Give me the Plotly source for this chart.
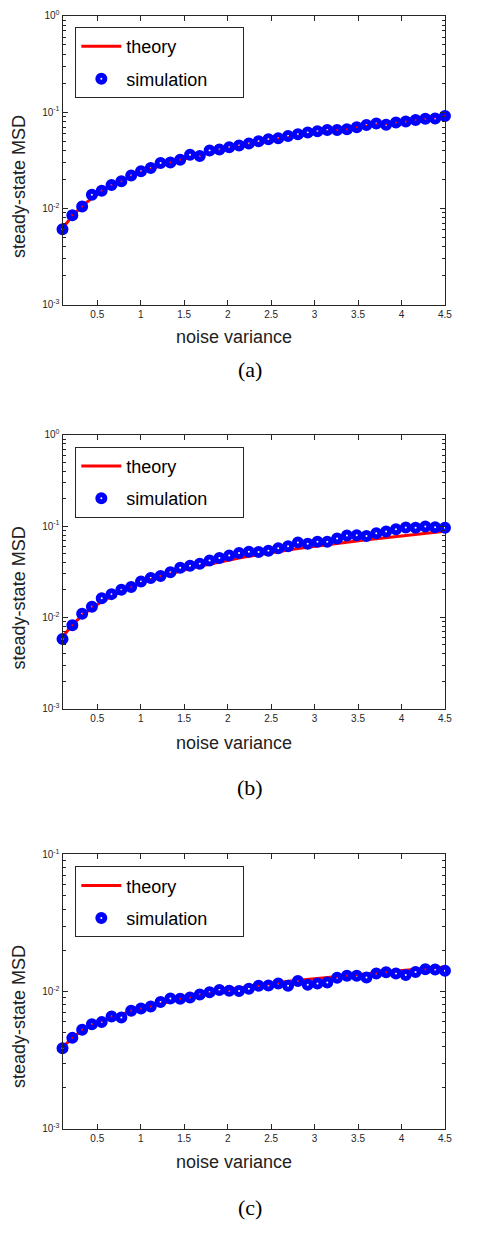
import plotly.graph_objects as go

# noise variance, 40 steps from 0.1 to 4.5
noise_var = [0.100, 0.213, 0.326, 0.438, 0.551, 0.664, 0.777, 0.890, 1.003, 1.115,
             1.228, 1.341, 1.454, 1.567, 1.679, 1.792, 1.905, 2.018, 2.131, 2.244,
             2.356, 2.469, 2.582, 2.695, 2.808, 2.921, 3.033, 3.146, 3.259, 3.372,
             3.485, 3.597, 3.710, 3.823, 3.936, 4.049, 4.162, 4.274, 4.387, 4.500]

# (a)
theory_a = [0.0062, 0.0084, 0.0106, 0.0128, 0.0150, 0.0172, 0.0193, 0.0214, 0.0236, 0.0257,
            0.0278, 0.0298, 0.0318, 0.0338, 0.0358, 0.0378, 0.0398, 0.0418, 0.0438, 0.0458,
            0.0478, 0.0500, 0.0522, 0.0544, 0.0566, 0.0587, 0.0608, 0.0628, 0.0646, 0.0665,
            0.0690, 0.0715, 0.0740, 0.0765, 0.0790, 0.0815, 0.0840, 0.0865, 0.0890, 0.0915]
sim_a = [0.0061, 0.0085, 0.0105, 0.0139, 0.0153, 0.0175, 0.0192, 0.0220, 0.0243, 0.0263,
         0.0296, 0.0301, 0.0321, 0.0362, 0.0350, 0.0400, 0.0410, 0.0433, 0.0451, 0.0472,
         0.0499, 0.0523, 0.0536, 0.0566, 0.0589, 0.0613, 0.0632, 0.0653, 0.0653, 0.0663,
         0.0695, 0.0735, 0.0764, 0.0740, 0.0782, 0.0801, 0.0826, 0.0853, 0.0859, 0.0910]

# (b)
theory_b = [0.0061, 0.0083, 0.0105, 0.0127, 0.0149, 0.0171, 0.0193, 0.0215, 0.0237, 0.0259,
            0.0280, 0.0301, 0.0322, 0.0343, 0.0364, 0.0385, 0.0406, 0.0427, 0.0448, 0.0468,
            0.0488, 0.0508, 0.0528, 0.0548, 0.0568, 0.0588, 0.0608, 0.0628, 0.0648, 0.0668,
            0.0688, 0.0708, 0.0728, 0.0750, 0.0772, 0.0794, 0.0816, 0.0838, 0.0860, 0.0882]
sim_b = [0.0058, 0.0082, 0.0110, 0.0131, 0.0162, 0.0180, 0.0201, 0.0216, 0.0247, 0.0271,
         0.0284, 0.0312, 0.0350, 0.0368, 0.0387, 0.0421, 0.0449, 0.0476, 0.0509, 0.0524,
         0.0521, 0.0539, 0.0572, 0.0601, 0.0664, 0.0643, 0.0676, 0.0676, 0.0734, 0.0791,
         0.0797, 0.0778, 0.0838, 0.0874, 0.0925, 0.0966, 0.0958, 0.0990, 0.0973, 0.0958]

# (c)
theory_c = [0.0039, 0.0046, 0.0052, 0.0057, 0.0061, 0.0065, 0.0068, 0.0072, 0.0075, 0.0078,
            0.0082, 0.0085, 0.0088, 0.0091, 0.0094, 0.0097, 0.0100, 0.0103, 0.0106, 0.0109,
            0.0111, 0.0114, 0.0116, 0.0119, 0.0121, 0.0123, 0.0125, 0.0127, 0.0129, 0.0131,
            0.0133, 0.0135, 0.0137, 0.0139, 0.0141, 0.0143, 0.0145, 0.0147, 0.0149, 0.0151]
sim_c = [0.00385, 0.00459, 0.00527, 0.00578, 0.00598, 0.00658, 0.00647, 0.00723, 0.00751, 0.00776,
         0.00839, 0.00891, 0.00887, 0.00906, 0.00953, 0.00986, 0.01026, 0.01015, 0.01010, 0.01048,
         0.01101, 0.01107, 0.01145, 0.01101, 0.01191, 0.01119, 0.01145, 0.01164, 0.01259, 0.01301,
         0.01301, 0.01264, 0.01352, 0.01384, 0.01352, 0.01321, 0.01390, 0.01453, 0.01445, 0.01419]

x_tickvals = [0.5, 1, 1.5, 2, 2.5, 3, 3.5, 4, 4.5]
x_ticktext = ["0.5", "1", "1.5", "2", "2.5", "3", "3.5", "4", "4.5"]
y_tickvals = [0.001, 0.01, 0.1, 1]
y_ticktext = ["10<sup>-3</sup>", "10<sup>-2</sup>", "10<sup>-1</sup>", "10<sup>0</sup>"]
panel_labels = ["(a)", "(b)", "(c)"]

W, H = 490, 1248
OFF = 8  # page body margin of the html file
SANS = "Liberation Sans, Arial, sans-serif"
AX = "#262626"
PAD = "\u00a0" * 6  # widen the legend box a bit


def px(v):
    return (v - OFF) / W


def py_(v):
    return 1 - (v - OFF) / H


panels = [
    (theory_a, sim_a, [-3, 0], (301.0, 8.7), 20.3, 181, 333, 366.7),
    (theory_b, sim_b, [-3, 0], (709.0, 432.3), 444.3, 596.7, 743.3, 788.3),
    (theory_c, sim_c, [-3, -1], (1133.3, 856.3), 868.3, 1019.7, 1167.3, 1213.3),
]

minor_vals = [m * 10.0 ** e for e in (-3, -2, -1) for m in range(2, 10)]

fig = go.Figure()
layout = dict(width=W, height=H, margin=dict(l=0, r=0, t=0, b=0),
              paper_bgcolor="white", plot_bgcolor="white", autosize=False,
              font=dict(family=SANS, color="black"))
annotations = []

for i, (th, sm, yr, (ybot, ytop), leg_top, ytitle_y, xtitle_y, lab_y) in enumerate(panels):
    n = "" if i == 0 else str(i + 1)
    leg = "legend" + n
    fig.add_trace(go.Scatter(x=noise_var, y=th, mode="lines", name="theory",
                             line=dict(color="#ff0000", width=3),
                             xaxis="x" + n, yaxis="y" + n, legend=leg,
                             legendgroup="th" + n))
    fig.add_trace(go.Scatter(x=noise_var, y=sm, mode="markers", name="simulation" + PAD,
                             marker=dict(symbol="circle-open", size=7, color="#0000ff",
                                         line=dict(color="#0000ff", width=5)),
                             cliponaxis=False,
                             xaxis="x" + n, yaxis="y" + n, legend=leg,
                             legendgroup="sim" + n))

    layout["xaxis" + n] = dict(
        domain=[px(63.3), px(451.3)], anchor="y" + n, range=[0.1, 4.5],
        tickmode="array", tickvals=x_tickvals, ticktext=x_ticktext,
        ticks="inside", ticklen=5, tickcolor=AX, showline=True, linecolor=AX,
        linewidth=1, mirror="allticks", showgrid=False, zeroline=False,
        tickfont=dict(size=10, color=AX, family=SANS))
    tv = [v for v in y_tickvals if 10 ** yr[0] <= v <= 10 ** yr[1]]
    tt = [t for v, t in zip(y_tickvals, y_ticktext) if 10 ** yr[0] <= v <= 10 ** yr[1]]
    layout["yaxis" + n] = dict(
        domain=[py_(ybot), py_(ytop)], anchor="x" + n, type="log", range=yr,
        tickmode="array", tickvals=tv, ticktext=tt,
        ticks="inside", ticklen=5, tickcolor=AX, showline=True, linecolor=AX,
        linewidth=1, mirror="allticks", showgrid=False, zeroline=False,
        tickfont=dict(size=10, color=AX, family=SANS),
        minor=dict(tickmode="array", tickvals=[v for v in minor_vals if 10 ** yr[0] < v < 10 ** yr[1]],
                   ticks="inside", ticklen=3, tickcolor=AX, showgrid=False))
    layout[leg] = dict(x=px(76.3), y=py_(leg_top), xanchor="left", yanchor="top",
                       bgcolor="white", bordercolor=AX, borderwidth=1,
                       font=dict(size=18, family=SANS, color="black"),
                       tracegroupgap=6, itemwidth=40)

    annotations.append(dict(text="steady-state MSD", x=px(19), y=py_(ytitle_y),
                            xref="paper", yref="paper", showarrow=False, textangle=-90,
                            xanchor="center", yanchor="middle", borderpad=0,
                            font=dict(size=18, family=SANS, color="#222")))
    annotations.append(dict(text="noise variance", x=px(237), y=py_(xtitle_y),
                            xref="paper", yref="paper", showarrow=False,
                            xanchor="center", yanchor="middle",
                            font=dict(size=18, family=SANS, color="#222")))
    annotations.append(dict(text=panel_labels[i], x=px(253), y=py_(lab_y),
                            xref="paper", yref="paper", showarrow=False,
                            xanchor="center", yanchor="middle",
                            font=dict(size=22, family="Liberation Serif, Times New Roman, serif",
                                      color="black")))

layout["annotations"] = annotations
fig.update_layout(**layout)
fig.write_html("out.html")
